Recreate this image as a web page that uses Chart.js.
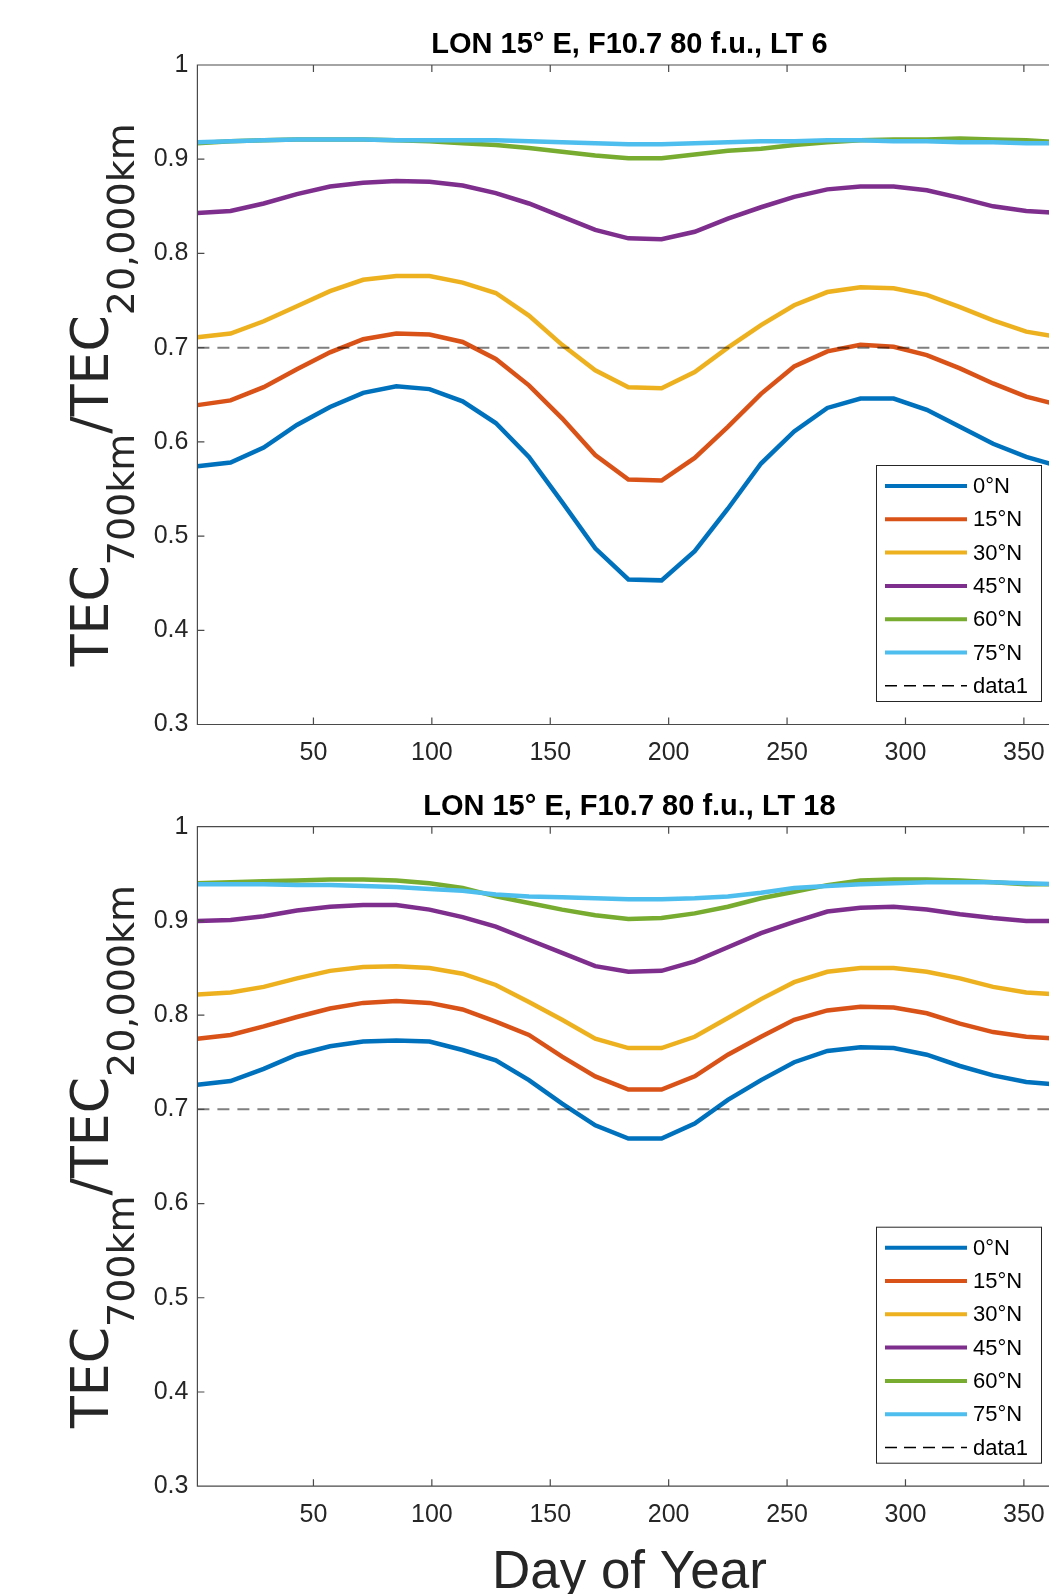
<!DOCTYPE html>
<html lang="en">
<head>
<meta charset="UTF-8">
<title>TEC ratio vs day of year</title>
<script src="https://cdn.jsdelivr.net/npm/chart.js@4.4.1/dist/chart.umd.min.js"></script>
<style>
  html, body { margin: 0; padding: 0; background: #fff; overflow: hidden; }
  #page { position: relative; width: 1049px; height: 1594px; overflow: hidden; }
  canvas { position: absolute; left: 0; }
  #lt6 { top: 0; }
  #lt18 { top: 762px; }
</style>
</head>
<body>
<div id="page">
  <canvas id="lt6" width="1100" height="790"></canvas>
  <canvas id="lt18" width="1100" height="832"></canvas>
</div>
<script>
// day of year sample points
const days = [1, 15, 29, 43, 57, 71, 85, 99, 113, 127, 141, 155, 169, 183, 197, 211, 225, 239, 253, 267, 281, 295, 309, 323, 337, 351, 365];

const latLabels = ['0°N', '15°N', '30°N', '45°N', '60°N', '75°N'];
const latColors = ['#0072BD', '#D95319', '#EDB120', '#7E2F8E', '#77AC30', '#4DBEEE'];

// LT 6
const lt6_0N  = [0.574,0.578,0.594,0.618,0.637,0.652,0.659,0.656,0.643,0.620,0.584,0.536,0.487,0.454,0.453,0.484,0.529,0.577,0.611,0.636,0.646,0.646,0.634,0.616,0.598,0.584,0.574];
const lt6_15N = [0.639,0.644,0.658,0.677,0.695,0.709,0.715,0.714,0.706,0.688,0.660,0.625,0.586,0.560,0.559,0.583,0.616,0.651,0.680,0.696,0.703,0.701,0.692,0.678,0.662,0.648,0.639];
const lt6_30N = [0.711,0.715,0.728,0.744,0.760,0.772,0.776,0.776,0.769,0.758,0.734,0.703,0.676,0.658,0.657,0.674,0.700,0.724,0.745,0.759,0.764,0.763,0.756,0.743,0.729,0.717,0.711];
const lt6_45N = [0.843,0.845,0.853,0.863,0.871,0.875,0.877,0.876,0.872,0.864,0.853,0.839,0.825,0.816,0.815,0.823,0.837,0.849,0.860,0.868,0.871,0.871,0.867,0.859,0.850,0.845,0.843];
const lt6_60N = [0.917,0.919,0.920,0.921,0.921,0.921,0.920,0.919,0.917,0.915,0.912,0.908,0.904,0.901,0.901,0.905,0.909,0.911,0.915,0.918,0.920,0.921,0.921,0.922,0.921,0.920,0.918];
const lt6_75N = [0.918,0.919,0.920,0.921,0.921,0.921,0.920,0.920,0.920,0.920,0.919,0.918,0.917,0.916,0.916,0.917,0.918,0.919,0.919,0.920,0.920,0.919,0.919,0.918,0.918,0.917,0.917];

// LT 18
const lt18_0N  = [0.726,0.730,0.743,0.758,0.767,0.772,0.773,0.772,0.763,0.752,0.731,0.706,0.683,0.669,0.669,0.685,0.710,0.731,0.750,0.762,0.766,0.765,0.758,0.746,0.736,0.729,0.726];
const lt18_15N = [0.775,0.779,0.788,0.798,0.807,0.813,0.815,0.813,0.806,0.793,0.779,0.756,0.735,0.721,0.721,0.735,0.758,0.777,0.795,0.805,0.809,0.808,0.802,0.791,0.782,0.777,0.775];
const lt18_30N = [0.822,0.824,0.830,0.839,0.847,0.851,0.852,0.850,0.844,0.832,0.814,0.795,0.775,0.765,0.765,0.777,0.797,0.817,0.835,0.846,0.850,0.850,0.846,0.839,0.830,0.824,0.822];
const lt18_45N = [0.900,0.901,0.905,0.911,0.915,0.917,0.917,0.912,0.904,0.894,0.880,0.866,0.852,0.846,0.847,0.857,0.872,0.887,0.899,0.910,0.914,0.915,0.912,0.907,0.903,0.900,0.900];
const lt18_60N = [0.940,0.941,0.942,0.943,0.944,0.944,0.943,0.940,0.935,0.926,0.919,0.912,0.906,0.902,0.903,0.908,0.915,0.924,0.931,0.938,0.943,0.944,0.944,0.943,0.941,0.939,0.939];
const lt18_75N = [0.939,0.939,0.939,0.938,0.938,0.937,0.936,0.934,0.932,0.928,0.926,0.925,0.924,0.923,0.923,0.924,0.926,0.930,0.935,0.937,0.939,0.940,0.941,0.941,0.941,0.940,0.939];

// horizontal reference line (legend "data1")
const refValue = 0.7;
const refLabel = 'data1';

const xTicks = [50, 100, 150, 200, 250, 300, 350];
const yTicks = [0.3, 0.4, 0.5, 0.6, 0.7, 0.8, 0.9, 1];
const yTickLabels = ['0.3', '0.4', '0.5', '0.6', '0.7', '0.8', '0.9', '1'];

const axisColor = '#4a4a4a';
const textColor = '#262626';
const sans = "'Liberation Sans', Arial, sans-serif";

// axes box + inward ticks, like MATLAB
const matlabAxes = {
    id: 'matlabAxes',
    afterDatasetsDraw(chart) {
        const ctx = chart.ctx, a = chart.chartArea;
        const x = chart.scales.x, y = chart.scales.y;
        ctx.save();
        ctx.strokeStyle = axisColor;
        ctx.lineWidth = 1.2;
        ctx.beginPath();
        ctx.rect(a.left, a.top, a.right - a.left, a.bottom - a.top);
        xTicks.forEach(v => {
            const px = x.getPixelForValue(v);
            ctx.moveTo(px, a.bottom); ctx.lineTo(px, a.bottom - 7);
            ctx.moveTo(px, a.top); ctx.lineTo(px, a.top + 7);
        });
        yTicks.forEach(v => {
            const py = y.getPixelForValue(v);
            ctx.moveTo(a.left, py); ctx.lineTo(a.left + 7, py);
            ctx.moveTo(a.right, py); ctx.lineTo(a.right - 7, py);
        });
        ctx.stroke();
        ctx.restore();
    }
};

// title, y label with subscripts, x label, boxed legend
const frame = {
    id: 'frame',
    afterDraw(chart, args, opts) {
        const ctx = chart.ctx, a = chart.chartArea;
        ctx.save();

        // title
        ctx.fillStyle = '#000';
        ctx.font = 'bold 29px ' + sans;
        ctx.textAlign = 'center';
        ctx.textBaseline = 'alphabetic';
        ctx.fillText(opts.title, (a.left + a.right) / 2 + 1, a.top - 12);

        // y label: TEC_{700km}/TEC_{20,000km}
        const parts = [['TEC', 0], ['700km', 1], ['/TEC', 0], ['20,000km', 1]];
        const mainFont = '52px "DejaVu Sans", sans-serif';
        const subFont = '38px "DejaVu Sans", sans-serif';
        let total = 0;
        parts.forEach(p => { ctx.font = p[1] ? subFont : mainFont; total += ctx.measureText(p[0]).width; });
        ctx.translate(108, (a.top + a.bottom) / 2);
        ctx.rotate(-Math.PI / 2);
        ctx.fillStyle = textColor;
        ctx.textAlign = 'left';
        let pos = -total / 2;
        parts.forEach(p => {
            ctx.font = p[1] ? subFont : mainFont;
            ctx.fillText(p[0], pos, p[1] ? 26 : 0);
            pos += ctx.measureText(p[0]).width;
        });
        ctx.setTransform(1, 0, 0, 1, 0, 0);

        // x label only under the lower panel
        if (opts.xLabel) {
            ctx.font = '53px ' + sans;
            ctx.textAlign = 'center';
            ctx.fillStyle = textColor;
            ctx.fillText(opts.xLabel, (a.left + a.right) / 2 + 1, a.bottom + 102);
        }

        // legend box
        const bx = 876, by = a.top + 400, bw = 165, bh = 236;
        ctx.fillStyle = '#fff';
        ctx.fillRect(bx, by, bw, bh);
        ctx.strokeStyle = textColor;
        ctx.lineWidth = 1;
        ctx.strokeRect(bx + 0.5, by + 0.5, bw, bh);
        ctx.font = '22px ' + sans;
        ctx.textAlign = 'left';
        ctx.textBaseline = 'middle';
        chart.data.datasets.forEach((ds, i) => {
            const ry = by + 21 + i * 33.3;
            ctx.beginPath();
            ctx.strokeStyle = ds.legendColor || ds.borderColor;
            ctx.lineWidth = ds.borderDash ? 1.5 : 4;
            ctx.setLineDash(ds.borderDash ? [12, 7] : []);
            ctx.moveTo(885, ry);
            ctx.lineTo(967, ry);
            ctx.stroke();
            ctx.setLineDash([]);
            ctx.fillStyle = '#000';
            ctx.fillText(ds.label, 973, ry + 1);
        });
        ctx.restore();
    }
};

function buildDatasets(series) {
    const sets = series.map((vals, i) => ({
        label: latLabels[i],
        data: vals.map((v, k) => ({ x: days[k], y: v })),
        borderColor: latColors[i],
        borderWidth: 4.5,
        pointRadius: 0,
        tension: 0,
        order: series.length - i + 1
    }));
    sets.push({
        label: refLabel,
        data: [{ x: days[0], y: refValue }, { x: days[days.length - 1], y: refValue }],
        borderColor: 'rgba(0,0,0,0.5)',
        legendColor: '#000',
        borderWidth: 2,
        borderDash: [12, 8],
        pointRadius: 0,
        order: 0
    });
    return sets;
}

function makeChart(id, title, series, padTop, xAxisHeight, xLabel) {
    return new Chart(document.getElementById(id), {
        type: 'line',
        data: { datasets: buildDatasets(series) },
        options: {
            responsive: false,
            animation: false,
            devicePixelRatio: 1,
            layout: { autoPadding: false, padding: { left: 0, top: padTop, right: 40.6, bottom: 0 } },
            plugins: {
                legend: { display: false },
                tooltip: { enabled: false },
                title: { display: false },
                frame: { title: title, xLabel: xLabel }
            },
            scales: {
                x: {
                    type: 'linear',
                    min: 1,
                    max: 365,
                    afterBuildTicks: s => { s.ticks = xTicks.map(v => ({ value: v })); },
                    afterFit: s => { s.height = xAxisHeight; },
                    grid: { display: false, drawTicks: false },
                    border: { display: false },
                    ticks: { color: textColor, font: { family: sans, size: 25 }, padding: 14, maxRotation: 0, autoSkip: false }
                },
                y: {
                    type: 'linear',
                    min: 0.3,
                    max: 1,
                    afterBuildTicks: s => { s.ticks = yTicks.map(v => ({ value: v })); },
                    afterFit: s => { s.width = 197.4; },
                    grid: { display: false, drawTicks: false },
                    border: { display: false },
                    ticks: {
                        color: textColor,
                        font: { family: sans, size: 25 },
                        padding: 9,
                        callback: (v) => yTickLabels[yTicks.findIndex(t => Math.abs(t - v) < 1e-6)]
                    }
                }
            }
        },
        plugins: [matlabAxes, frame]
    });
}

makeChart('lt6', 'LON 15° E, F10.7 80 f.u., LT 6',
    [lt6_0N, lt6_15N, lt6_30N, lt6_45N, lt6_60N, lt6_75N], 65, 65.5, null);
makeChart('lt18', 'LON 15° E, F10.7 80 f.u., LT 18',
    [lt18_0N, lt18_15N, lt18_30N, lt18_45N, lt18_60N, lt18_75N], 64.7, 107.8, 'Day of Year');
</script>
</body>
</html>
